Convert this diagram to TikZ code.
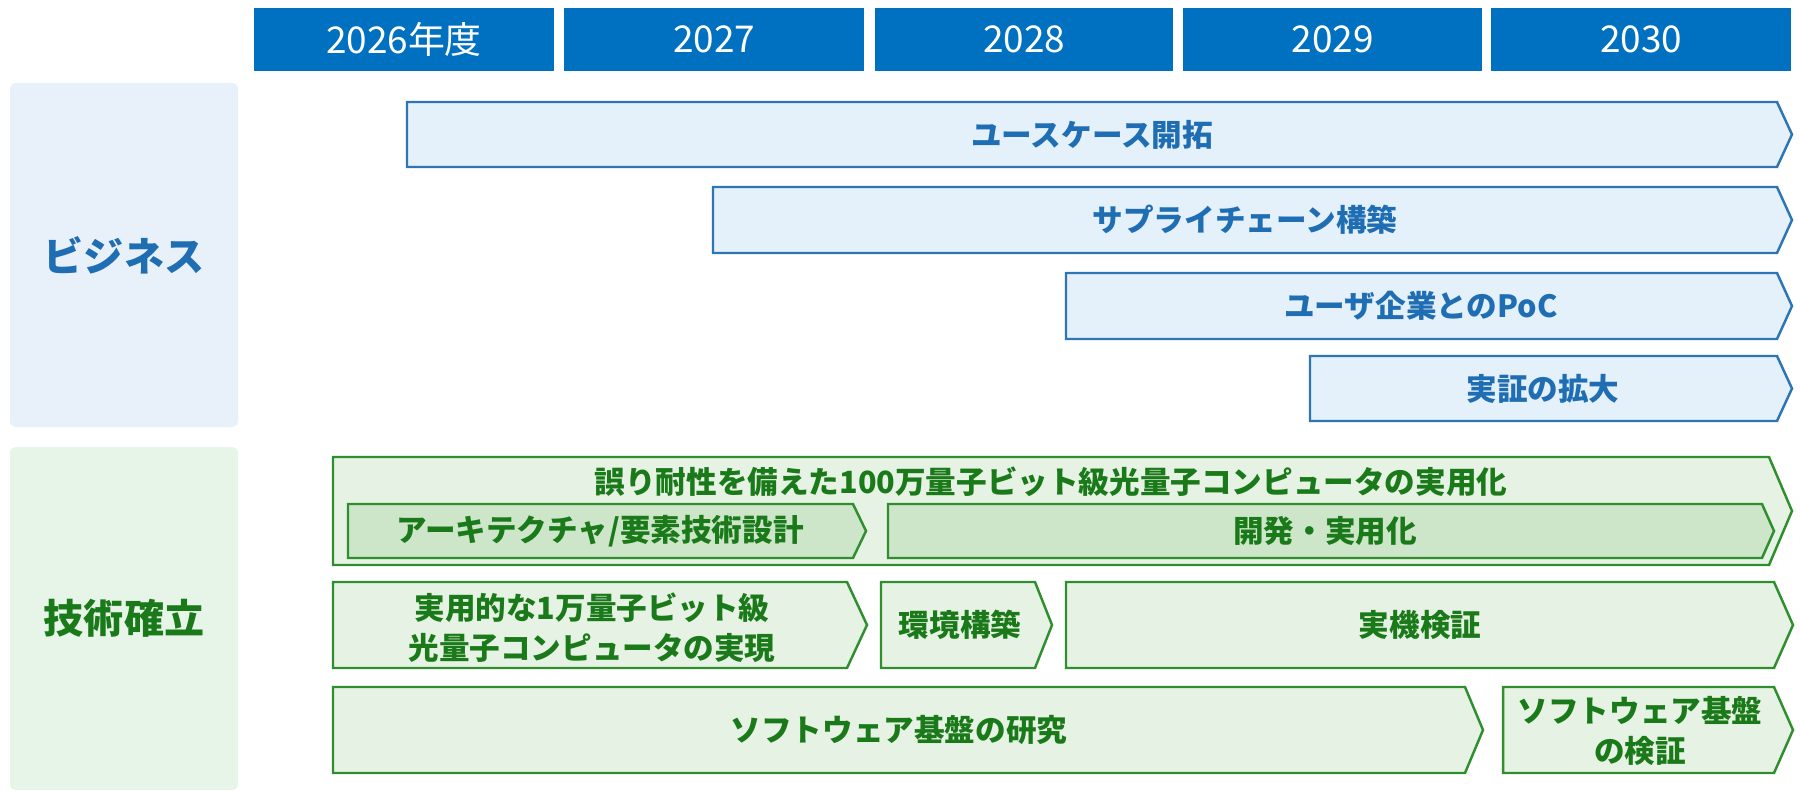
\documentclass[tikz,border=0pt]{standalone}
\usepackage{fontspec}
\setmainfont{Noto Sans CJK JP}

\definecolor{yearblue}{HTML}{0070C0}
\definecolor{bizline}{HTML}{2E75B6}
\definecolor{bizfill}{HTML}{E4F0FA}
\definecolor{bizink}{HTML}{1F6DB3}
\definecolor{bizside}{HTML}{E8F1FA}
\definecolor{techline}{HTML}{2F8F2F}
\definecolor{techfill}{HTML}{E6F2E3}
\definecolor{techinner}{HTML}{CDE5C8}
\definecolor{techink}{HTML}{1A7A1A}
\definecolor{techside}{HTML}{E7F5E9}

\begin{document}
\begin{tikzpicture}[x=0.01cm, y=-0.01cm,
  yeartext/.style={text=white, font=\fontsize{10.5}{12}\selectfont},
  bizbar/.style={fill=bizfill, draw=bizline, line width=0.7pt, line join=miter},
  techbar/.style={fill=techfill, draw=techline, line width=0.7pt, line join=miter},
  techsub/.style={fill=techinner, draw=techline, line width=0.7pt, line join=miter},
  biztext/.style={text=bizink, font=\fontsize{8.7}{11}\selectfont\bfseries},
  techtext/.style={text=techink, align=center, font=\fontsize{8.7}{11.4}\selectfont\bfseries},
  sidetext/.style={font=\fontsize{11.4}{13}\selectfont\bfseries}]

\useasboundingbox (0,0) rectangle (1800,791);

% year header
\foreach \xa/\xb/\yr [count=\i] in {254/554/2026年度, 564/864/2027, 875/1173/2028, 1183/1482/2029, 1491/1791/2030}{
  \fill [yearblue] (\xa,8) rectangle (\xb,71);
  \node [yeartext] (year\i) at ({(\xa+\xb)/2},39.5) {\yr};
}

% side labels
\fill [bizside, rounded corners=1.5pt] (10,83) rectangle (238,427);
\node [sidetext, text=bizink] (business) at (124,255) {ビジネス};

\fill [techside, rounded corners=1.5pt] (10,447) rectangle (238,790);
\node [sidetext, text=techink] (technology) at (124,618) {技術確立};

% business bars
\draw [bizbar] (407,102) -- (1777,102) -- (1792,134.5) -- (1777,167) -- (407,167) -- cycle;
\node [biztext] (usecase) at (1092,134.5) {ユースケース開拓};

\draw [bizbar] (713,187) -- (1777,187) -- (1792,220) -- (1777,253) -- (713,253) -- cycle;
\node [biztext] (supply) at (1245,220) {サプライチェーン構築};

\draw [bizbar] (1066,273) -- (1777,273) -- (1792,306) -- (1777,339) -- (1066,339) -- cycle;
\node [biztext] (poc) at (1421,306) {ユーザ企業とのPoC};

\draw [bizbar] (1310,356) -- (1777,356) -- (1792,388.5) -- (1777,421) -- (1310,421) -- cycle;
\node [biztext] (demo) at (1543,388.5) {実証の拡大};

% technology bars
\draw [techbar] (333,457) -- (1769,457) -- (1792,511) -- (1769,565) -- (333,565) -- cycle;
\node [techtext] (million) at (1051,482) {誤り耐性を備えた100万量子ビット級光量子コンピュータの実用化};

\draw [techsub] (348,504) -- (853,504) -- (866,531) -- (853,558) -- (348,558) -- cycle;
\node [techtext] (arch) at (600,531) {アーキテクチャ/要素技術設計};

\draw [techsub] (888,504) -- (1762,504) -- (1774,531) -- (1762,558) -- (888,558) -- cycle;
\node [techtext] (devel) at (1325,531) {開発・実用化};

\draw [techbar] (333,582) -- (847,582) -- (867,625) -- (847,668) -- (333,668) -- cycle;
\node [techtext] (tenk) at (592,628) {実用的な1万量子ビット級\\光量子コンピュータの実現};

\draw [techbar] (881,582) -- (1035,582) -- (1052,625) -- (1035,668) -- (881,668) -- cycle;
\node [techtext] (env) at (960,625) {環境構築};

\draw [techbar] (1066,582) -- (1774,582) -- (1793,625) -- (1774,668) -- (1066,668) -- cycle;
\node [techtext] (real) at (1420,625) {実機検証};

\draw [techbar] (333,687) -- (1465,687) -- (1483,730) -- (1465,773) -- (333,773) -- cycle;
\node [techtext] (softres) at (899,730) {ソフトウェア基盤の研究};

\draw [techbar] (1503,687) -- (1774,687) -- (1793,730) -- (1774,773) -- (1503,773) -- cycle;
\node [techtext] (softver) at (1640,731) {ソフトウェア基盤\\の検証};

\end{tikzpicture}
\end{document}
